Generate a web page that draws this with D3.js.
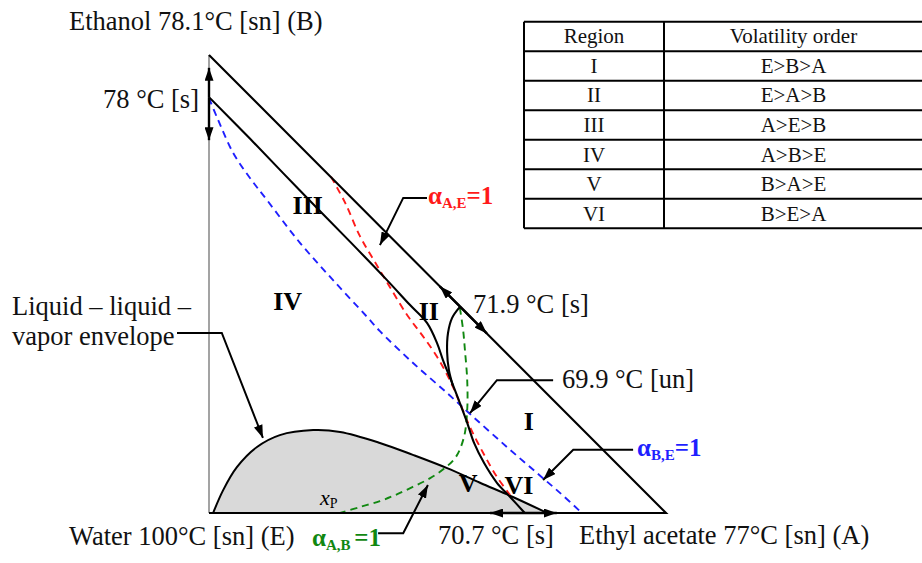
<!DOCTYPE html>
<html>
<head>
<meta charset="utf-8">
<script src="https://cdn.jsdelivr.net/npm/d3@7/dist/d3.min.js"></script>
<style>
  body { margin: 0; background: #fff; }
  svg { font-family: "Liberation Serif", "Times New Roman", serif; }
</style>
</head>
<body>
<div id="chart"></div>
<script>
// compositions are [x_A (ethyl acetate), x_B (ethanol)] mole fractions, E = water
const boundary = [
  [0.000, 0.908], [0.090, 0.817], [0.199, 0.704], [0.309, 0.592], [0.389, 0.509],
  [0.440, 0.454], [0.477, 0.415], [0.499, 0.371], [0.512, 0.334], [0.532, 0.284],
  [0.549, 0.240], [0.565, 0.197], [0.580, 0.153], [0.602, 0.109], [0.630, 0.066],
  [0.659, 0.035], [0.691, 0.000]
];
const separatrix = [
  [0.549, 0.450], [0.532, 0.426], [0.523, 0.393], [0.521, 0.352], [0.525, 0.312], [0.534, 0.277]
];
const envelope = [
  [0.009, 0.000], [0.031, 0.050], [0.061, 0.100], [0.105, 0.144], [0.155, 0.170],
  [0.228, 0.181], [0.287, 0.177], [0.374, 0.153], [0.446, 0.127], [0.521, 0.098],
  [0.593, 0.066], [0.665, 0.035], [0.740, 0.000]
];
const alphaAE = [
  [0.267, 0.734], [0.298, 0.677], [0.330, 0.605], [0.363, 0.548], [0.396, 0.493],
  [0.435, 0.430], [0.466, 0.389], [0.499, 0.341], [0.527, 0.290], [0.549, 0.240],
  [0.571, 0.188], [0.600, 0.131], [0.630, 0.079], [0.659, 0.039]
];
const alphaBE = [
  [0.000, 0.906], [0.020, 0.858], [0.053, 0.786], [0.090, 0.731], [0.127, 0.683],
  [0.199, 0.590], [0.271, 0.509], [0.346, 0.428], [0.374, 0.397], [0.446, 0.328],
  [0.521, 0.262], [0.578, 0.210], [0.652, 0.144], [0.718, 0.087], [0.768, 0.044],
  [0.816, 0.000]
];
const alphaAB = [
  [0.549, 0.448], [0.556, 0.400], [0.560, 0.356], [0.565, 0.290], [0.565, 0.225],
  [0.558, 0.166], [0.540, 0.122], [0.516, 0.098], [0.484, 0.076], [0.446, 0.057],
  [0.407, 0.039], [0.374, 0.026], [0.330, 0.013], [0.287, 0.000]
];
// residue-curve direction arrows leaving the saddles: [from, tip]
const saddleArrows = [
  [[0.000, 0.908], [0.000, 0.972]],
  [[0.000, 0.908], [0.000, 0.814]],
  [[0.549, 0.451], [0.505, 0.495]],
  [[0.549, 0.451], [0.608, 0.392]],
  [[0.691, 0.000], [0.615, 0.000]],
  [[0.691, 0.000], [0.761, 0.000]]
];
const regions = ["I", "II", "III", "IV", "V", "VI"];
const volatility = ["E>B>A", "E>A>B", "A>E>B", "A>B>E", "B>A>E", "B>E>A"];
const tableHeader = ["Region", "Volatility order"];

// ---- layout ----
const W = 922, H = 563;
const x = d3.scaleLinear().domain([0, 1]).range([209, 666]);
const y = d3.scaleLinear().domain([0, 1]).range([513, 55]);
const regionPos = [[0.700, 0.181], [0.481, 0.421], [0.216, 0.653], [0.172, 0.443], [0.567, 0.046], [0.678, 0.041]];
const leaders = [
  [[0.477, 0.688], [0.425, 0.688], [0.374, 0.585]],
  [[0.928, 0.138], [0.797, 0.138], [0.731, 0.072]],
  [[0.370, -0.044], [0.425, -0.044], [0.479, 0.061]],
  [[0.753, 0.290], [0.630, 0.290], [0.571, 0.218]],
  [[-0.070, 0.393], [0.028, 0.393], [0.118, 0.164]]
];

const svg = d3.select("#chart").append("svg").attr("width", W).attr("height", H);
const defs = svg.append("defs");
defs.append("marker")
  .attr("id", "head")
  .attr("viewBox", "0 0 13 9")
  .attr("refX", 13).attr("refY", 4.5)
  .attr("markerWidth", 13).attr("markerHeight", 9)
  .attr("markerUnits", "userSpaceOnUse")
  .attr("orient", "auto")
  .append("path").attr("d", "M0,0L13,4.5L0,9Z").attr("fill", "#000");

const smooth = d3.line().x(d => x(d[0])).y(d => y(d[1])).curve(d3.curveCatmullRom.alpha(0.5));
const straight = d3.line().x(d => x(d[0])).y(d => y(d[1]));

// liquid-liquid-vapor envelope
svg.append("path")
  .attr("d", smooth(envelope) + "Z")
  .attr("fill", "#d9d9d9")
  .attr("stroke", "none");
svg.append("path")
  .attr("d", smooth(envelope))
  .attr("fill", "none").attr("stroke", "#000").attr("stroke-width", 2);

// unity volatility lines
[[alphaBE, "#1f1fff"], [alphaAE, "#ff1a1a"], [alphaAB, "#118811"]].forEach(([d, c]) => {
  svg.append("path")
    .attr("d", smooth(d))
    .attr("fill", "none").attr("stroke", c)
    .attr("stroke-width", 1.9).attr("stroke-dasharray", "7,5");
});

// distillation boundaries
[boundary, separatrix].forEach(d => {
  svg.append("path")
    .attr("d", smooth(d))
    .attr("fill", "none").attr("stroke", "#000").attr("stroke-width", 2.1);
});

// triangle edges
svg.append("line")
  .attr("x1", x(0)).attr("y1", y(0)).attr("x2", x(0)).attr("y2", y(1))
  .attr("stroke", "#666").attr("stroke-width", 1.2);
svg.append("path")
  .attr("d", straight([[0, 0], [1, 0], [0, 1]]))
  .attr("fill", "none").attr("stroke", "#000").attr("stroke-width", 2.1);

// arrows at saddles
saddleArrows.forEach(d => {
  svg.append("path")
    .attr("d", straight(d))
    .attr("stroke", "#000").attr("stroke-width", 2.4)
    .attr("marker-end", "url(#head)");
});

// leader lines
leaders.forEach(d => {
  svg.append("path")
    .attr("d", straight(d))
    .attr("fill", "none").attr("stroke", "#000").attr("stroke-width", 2)
    .attr("marker-end", "url(#head)");
});

// region numerals
svg.selectAll(".region")
  .data(regions)
  .join("text")
  .attr("class", "region")
  .attr("x", (d, i) => x(regionPos[i][0]))
  .attr("y", (d, i) => y(regionPos[i][1]))
  .attr("text-anchor", "middle")
  .attr("font-weight", "bold")
  .attr("font-size", 26)
  .text(d => d);

// plain labels
const labels = [
  ["Ethanol 78.1°C [sn] (B)", 69, 30, "start"],
  ["78 °C [s]", 199, 108, "end"],
  ["71.9 °C [s]", 473, 313, "start"],
  ["69.9 °C [un]", 562, 388, "start"],
  ["Liquid – liquid –", 12, 315, "start"],
  ["vapor envelope", 12, 345, "start"],
  ["Water 100°C [sn] (E)", 69, 545, "start"],
  ["70.7 °C [s]", 438, 544, "start"],
  ["Ethyl acetate 77°C [sn] (A)", 579, 544, "start"]
];
svg.selectAll(".lbl")
  .data(labels)
  .join("text")
  .attr("class", "lbl")
  .attr("x", d => d[1]).attr("y", d => d[2])
  .attr("text-anchor", d => d[3])
  .attr("font-size", 26.5)
  .attr("fill", "#111")
  .style("white-space", "pre")
  .text(d => d[0]);

// alpha = 1 labels
function alphaLabel(px, py, sub, color) {
  const t = svg.append("text")
    .attr("x", px).attr("y", py)
    .attr("font-weight", "bold").attr("font-size", 25).attr("fill", color);
  t.append("tspan").text("α");
  t.append("tspan").attr("font-size", 15).attr("dy", 4).text(sub);
  t.append("tspan").attr("dy", -4).text("=1");
}
alphaLabel(428, 204, "A,E", "#ff1a1a");
alphaLabel(637, 456, "B,E", "#1f1fff");
alphaLabel(312, 546, "A,B ", "#118811");

// x_P
const xp = svg.append("text").attr("x", x(0.243)).attr("y", y(0.017)).attr("font-size", 22);
xp.append("tspan").attr("font-style", "italic").text("x");
xp.append("tspan").attr("font-size", 14).attr("dy", 3).text("P");

// volatility table
const colX = [524, 664, 923];
const rowY = d3.scaleBand().domain(d3.range(regions.length + 1)).range([21.7, 228.3]);
const table = svg.append("g");
const rows = [tableHeader].concat(regions.map((r, i) => [r, volatility[i]]));
rows.forEach((r, i) => {
  r.forEach((c, j) => {
    table.append("text")
      .attr("x", (colX[j] + colX[j + 1]) / 2)
      .attr("y", rowY(i) + rowY.bandwidth() / 2 + 7)
      .attr("text-anchor", "middle")
      .attr("font-size", 21)
      .attr("fill", "#111")
      .text(c);
  });
});
d3.range(regions.length + 2).forEach(i => {
  const yy = i <= regions.length ? rowY(i) : rowY.range()[1];
  table.append("line")
    .attr("x1", colX[0]).attr("x2", colX[2]).attr("y1", yy).attr("y2", yy)
    .attr("stroke", "#000").attr("stroke-width", 2);
});
colX.forEach(cx => {
  table.append("line")
    .attr("x1", cx).attr("x2", cx).attr("y1", rowY.range()[0]).attr("y2", rowY.range()[1])
    .attr("stroke", "#000").attr("stroke-width", 2);
});
</script>
</body>
</html>
